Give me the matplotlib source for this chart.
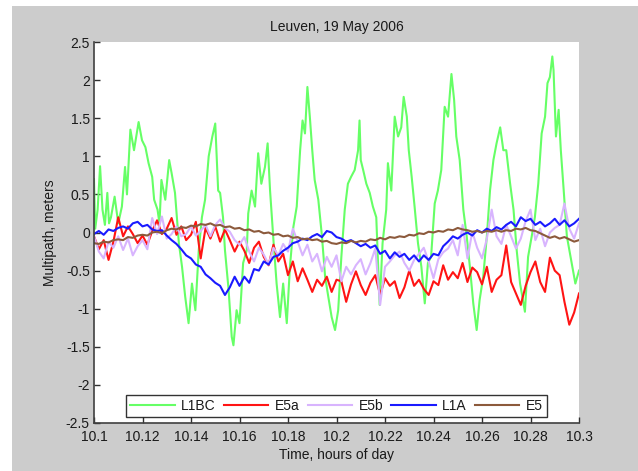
import numpy as np
import matplotlib
matplotlib.use("Agg")
import matplotlib.pyplot as plt
from matplotlib.patches import Rectangle
from matplotlib.ticker import FuncFormatter

plt.rcParams['font.family'] = ['Liberation Sans', 'DejaVu Sans']

# ---------------- data ----------------
title = "Leuven, 19 May 2006"
xlabel = "Time, hours of day"
ylabel = "Multipath, meters"
series_names = ["L1BC", "E5a", "E5b", "L1A", "E5"]

l1bc_time = [
    10.1000, 10.1005, 10.1015, 10.1025, 10.1035, 10.1045, 10.1055, 10.1062, 10.1070, 10.1085,
    10.1100, 10.1115, 10.1128, 10.1136, 10.1150, 10.1165, 10.1184, 10.1198, 10.1212, 10.1225,
    10.1240, 10.1248, 10.1262, 10.1270, 10.1278, 10.1294, 10.1310, 10.1320, 10.1334, 10.1350,
    10.1363, 10.1376, 10.1390, 10.1404, 10.1418, 10.1432, 10.1445, 10.1458, 10.1473, 10.1488,
    10.1500, 10.1512, 10.1520, 10.1532, 10.1540, 10.1555, 10.1568, 10.1575, 10.1588, 10.1600,
    10.1615, 10.1630, 10.1636, 10.1650, 10.1664, 10.1677, 10.1690, 10.1705, 10.1716, 10.1726,
    10.1740, 10.1753, 10.1767, 10.1780, 10.1795, 10.1808, 10.1822, 10.1836, 10.1850, 10.1860,
    10.1870, 10.1880, 10.1890, 10.1900, 10.1910, 10.1925, 10.1940, 10.1953, 10.1966, 10.1980,
    10.1994, 10.2007, 10.2020, 10.2034, 10.2047, 10.2060, 10.2075, 10.2089, 10.2095, 10.2100,
    10.2110, 10.2123, 10.2137, 10.2150, 10.2164, 10.2178, 10.2190, 10.2205, 10.2212, 10.2226,
    10.2240, 10.2254, 10.2267, 10.2277, 10.2290, 10.2298, 10.2310, 10.2322, 10.2336, 10.2350,
    10.2364, 10.2377, 10.2390, 10.2405, 10.2418, 10.2432, 10.2446, 10.2460, 10.2474, 10.2485,
    10.2494, 10.2508, 10.2523, 10.2537, 10.2550, 10.2564, 10.2578, 10.2590, 10.2605, 10.2620,
    10.2633, 10.2647, 10.2660, 10.2675, 10.2688, 10.2700, 10.2716, 10.2730, 10.2743, 10.2757,
    10.2777, 10.2790, 10.2805, 10.2818, 10.2832, 10.2846, 10.2860, 10.2870, 10.2880, 10.2890,
    10.2895, 10.2905, 10.2916, 10.2925, 10.2937, 10.2950, 10.2970, 10.2985, 10.3000,
]
l1bc_values = [
    0.70, 0.05, 0.30, 0.87, 0.30, 0.10, 0.52, 0.12, 0.20, 0.47,
    0.12, 0.34, 0.86, 0.50, 1.35, 1.08, 1.45, 1.21, 1.12, 0.91,
    0.73, 0.43, 0.30, 0.12, 0.69, 0.43, 0.95, 0.78, 0.52, -0.14,
    -0.45, -0.84, -1.19, -0.67, -1.02, -0.23, 0.20, 0.43, 1.00, 1.26,
    1.43, 0.55, 0.52, 0.20, -0.23, -0.75, -1.37, -1.48, -1.02, -1.19,
    -0.40, -0.23, 0.25, 0.55, 0.34, 1.04, 0.64, 0.86, 1.17, 0.55,
    -0.10, -0.67, -1.11, -0.67, -1.19, -0.45, 0.07, 0.34, 1.08, 1.47,
    1.30, 1.91, 1.52, 1.08, 0.69, 0.43, -0.05, -0.58, -0.84, -1.11,
    -1.28, -1.02, -0.32, 0.30, 0.64, 0.73, 0.82, 1.08, 1.47, 0.95,
    0.82, 0.64, 0.52, 0.34, 0.20, -0.95, -0.14, 0.30, 0.91, 0.55,
    1.52, 1.26, 1.38, 1.78, 1.52, 1.08, 0.73, 0.34, -0.14, -0.45,
    -0.93, -0.40, -0.32, 0.38, 0.55, 0.82, 1.65, 1.52, 2.08, 1.74,
    1.26, 0.95, 0.30, -0.05, -0.45, -0.93, -1.28, -0.89, -0.58, -0.05,
    0.55, 0.95, 1.17, 1.38, 1.08, 1.08, 0.64, 0.30, -0.23, -0.67,
    -1.04, -0.32, -0.05, 0.20, 0.64, 1.30, 1.52, 1.96, 2.04, 2.31,
    2.13, 1.26, 1.61, 1.08, 0.55, -0.05, -0.40, -0.67, -0.50,
]

# regular time grid for the other four signals (every 0.002 h)
grid_start, grid_end, grid_count = 10.1, 10.3, 101

e5a_values = [
    -0.05, -0.22, -0.10, -0.36, -0.12, 0.20, -0.05, 0.08, -0.02, -0.14,
    -0.04, -0.16, 0.02, 0.16, -0.02, 0.05, 0.19, -0.03, 0.08, -0.10,
    -0.03, 0.14, -0.34, 0.06, -0.08, 0.08, -0.12, 0.04, -0.10, -0.25,
    -0.12, -0.24, -0.40, -0.20, -0.12, -0.32, -0.43, -0.16, -0.38, -0.28,
    -0.56, -0.38, -0.64, -0.47, -0.62, -0.78, -0.62, -0.70, -0.58, -0.78,
    -0.62, -0.64, -0.91, -0.68, -0.51, -0.69, -0.82, -0.66, -0.56, -0.82,
    -0.60, -0.70, -0.64, -0.86, -0.72, -0.50, -0.70, -0.62, -0.74, -0.82,
    -0.64, -0.69, -0.43, -0.62, -0.52, -0.60, -0.40, -0.65, -0.46, -0.52,
    -0.68, -0.45, -0.78, -0.62, -0.56, -0.17, -0.65, -0.80, -0.95, -0.70,
    -0.52, -0.38, -0.65, -0.78, -0.33, -0.50, -0.56, -0.91, -1.21, -1.05,
    -0.80,
]
e5b_values = [
    -0.05, -0.25, -0.34, -0.12, -0.20, -0.05, -0.23, -0.08, -0.30, -0.18,
    -0.10, -0.22, 0.19, -0.02, 0.21, -0.08, -0.02, 0.08, -0.05, -0.02,
    0.08, -0.04, 0.02, 0.10, -0.05, 0.10, 0.17, 0.06, 0.01, -0.10,
    -0.16, -0.06, -0.25, -0.38, -0.20, -0.29, -0.42, -0.20, -0.30, -0.15,
    -0.25, 0.05, -0.12, -0.30, -0.16, -0.38, -0.28, -0.51, -0.32, -0.45,
    -0.30, -0.64, -0.45, -0.55, -0.43, -0.35, -0.55, -0.40, -0.21, -0.95,
    -0.45, -0.38, -0.30, -0.25, -0.40, -0.50, -0.36, -0.28, -0.20, -0.38,
    -0.60, -0.35, -0.26, -0.21, -0.10, -0.30, 0.10, -0.34, 0.01, -0.20,
    -0.34, -0.08, 0.30, -0.05, -0.15, 0.10, -0.05, -0.21, -0.08, 0.15,
    0.30, -0.10, 0.05, -0.18, 0.00, 0.06, 0.10, 0.38, 0.05, -0.08,
    0.12,
]
l1a_values = [
    -0.02, 0.02, -0.03, 0.04, 0.02, 0.06, 0.08, 0.05, 0.12, 0.14,
    0.08, 0.10, 0.04, 0.02, 0.03, -0.04, -0.10, -0.15, -0.22, -0.30,
    -0.34, -0.42, -0.45, -0.55, -0.60, -0.66, -0.70, -0.82, -0.72, -0.58,
    -0.70, -0.58, -0.66, -0.48, -0.50, -0.38, -0.42, -0.32, -0.30, -0.24,
    -0.20, -0.14, -0.12, -0.08, -0.10, -0.05, -0.02, -0.06, 0.02, 0.00,
    -0.06, -0.08, -0.12, -0.10, -0.14, -0.18, -0.15, -0.20, -0.17, -0.28,
    -0.24, -0.34, -0.26, -0.32, -0.28, -0.36, -0.30, -0.38, -0.30, -0.36,
    -0.28, -0.30, -0.18, -0.12, -0.05, -0.08, -0.03, 0.00, -0.04, 0.03,
    0.00, 0.05, 0.02, 0.07, 0.04, 0.10, 0.14, 0.08, 0.20, 0.15,
    0.18, 0.10, 0.14, 0.08, 0.12, 0.18, 0.10, 0.16, 0.08, 0.12,
    0.18,
]
e5_values = [
    -0.14, -0.15, -0.12, -0.13, -0.10, -0.09, -0.10, -0.06, -0.07, -0.04,
    -0.03, -0.04, 0.00, 0.01, -0.01, 0.03, 0.05, 0.04, 0.07, 0.06,
    0.09, 0.08, 0.11, 0.10, 0.12, 0.09, 0.10, 0.07, 0.08, 0.05,
    0.06, 0.03, 0.04, 0.01, 0.02, -0.01, 0.00, -0.03, -0.02, -0.05,
    -0.04, -0.07, -0.06, -0.09, -0.08, -0.10, -0.09, -0.12, -0.11, -0.14,
    -0.15, -0.13, -0.14, -0.11, -0.13, -0.11, -0.12, -0.09, -0.10, -0.07,
    -0.09, -0.06, -0.07, -0.05, -0.06, -0.03, -0.04, -0.01, -0.02, 0.01,
    0.00, 0.02, 0.01, 0.04, 0.03, 0.06, 0.04, 0.03, 0.01, 0.02,
    0.00, 0.02, 0.01, 0.03, 0.01, 0.03, 0.02, 0.05, 0.04, 0.06,
    0.03, 0.02, -0.01, -0.04, -0.07, -0.05, -0.08, -0.06, -0.09, -0.12,
    -0.10,
]

x_ticks = [10.1, 10.12, 10.14, 10.16, 10.18, 10.2, 10.22, 10.24, 10.26, 10.28, 10.3]
y_ticks = [-2.5, -2, -1.5, -1, -0.5, 0, 0.5, 1, 1.5, 2, 2.5]

colors = ["#66FF66", "#FF1414", "#D8B4FE", "#1A1AFF", "#8C5A3C"]

# ---------------- figure ----------------
W, H = 638, 471
fig = plt.figure(figsize=(W / 100, H / 100), dpi=100, facecolor="white")
fig.patches.append(Rectangle((12 / W, 0), 1 - 12 / W, (H - 6) / H,
                             transform=fig.transFigure, facecolor="#CCCCCC",
                             edgecolor="none", zorder=-10))

ax = fig.add_axes([94 / W, 1 - 423 / H, (579 - 94) / W, (423 - 42) / H])
ax.set_facecolor("white")

grid_time = np.linspace(grid_start, grid_end, grid_count)
lw = 1.5
ax.plot(l1bc_time, l1bc_values, color=colors[0], lw=lw, label=series_names[0])
ax.plot(grid_time, e5a_values, color=colors[1], lw=lw, label=series_names[1])
ax.plot(grid_time, e5b_values, color=colors[2], lw=lw, label=series_names[2])
ax.plot(grid_time, l1a_values, color=colors[3], lw=lw, label=series_names[3])
ax.plot(grid_time, e5_values, color=colors[4], lw=lw, label=series_names[4])

ax.set_xlim(10.1, 10.3)
ax.set_ylim(-2.5, 2.5)
ax.set_xticks(x_ticks)
ax.set_yticks(y_ticks)
fmt = FuncFormatter(lambda v, p: ("%g" % round(v, 4)))
ax.xaxis.set_major_formatter(fmt)
ax.yaxis.set_major_formatter(fmt)

for s in ["top", "right"]:
    ax.spines[s].set_visible(False)
for s in ["left", "bottom"]:
    ax.spines[s].set_color("#404040")
    ax.spines[s].set_linewidth(1.2)

ax.tick_params(direction="in", length=4, width=1, color="#303030",
               labelsize=10, labelcolor="#1a1a1a", top=False, right=False)
ax.tick_params(axis="x", pad=5)
ax.tick_params(axis="y", pad=3)

ax.set_title(title, fontsize=10, color="#1a1a1a", pad=8)
ax.set_xlabel(xlabel, fontsize=10, color="#1a1a1a", labelpad=3)
ax.set_ylabel(ylabel, fontsize=10, color="#1a1a1a", labelpad=6)

leg = ax.legend(loc="lower center", bbox_to_anchor=(0.5, 0.016), ncol=5,
                fontsize=10, frameon=True, fancybox=False, borderaxespad=0,
                handlelength=3.2, handletextpad=0.45, columnspacing=0.6,
                borderpad=0.3)
leg.get_frame().set_edgecolor("black")
leg.get_frame().set_linewidth(1.0)
for t in leg.get_texts():
    t.set_color("#1a1a1a")

fig.savefig("out.png", dpi=100, facecolor=fig.get_facecolor())
